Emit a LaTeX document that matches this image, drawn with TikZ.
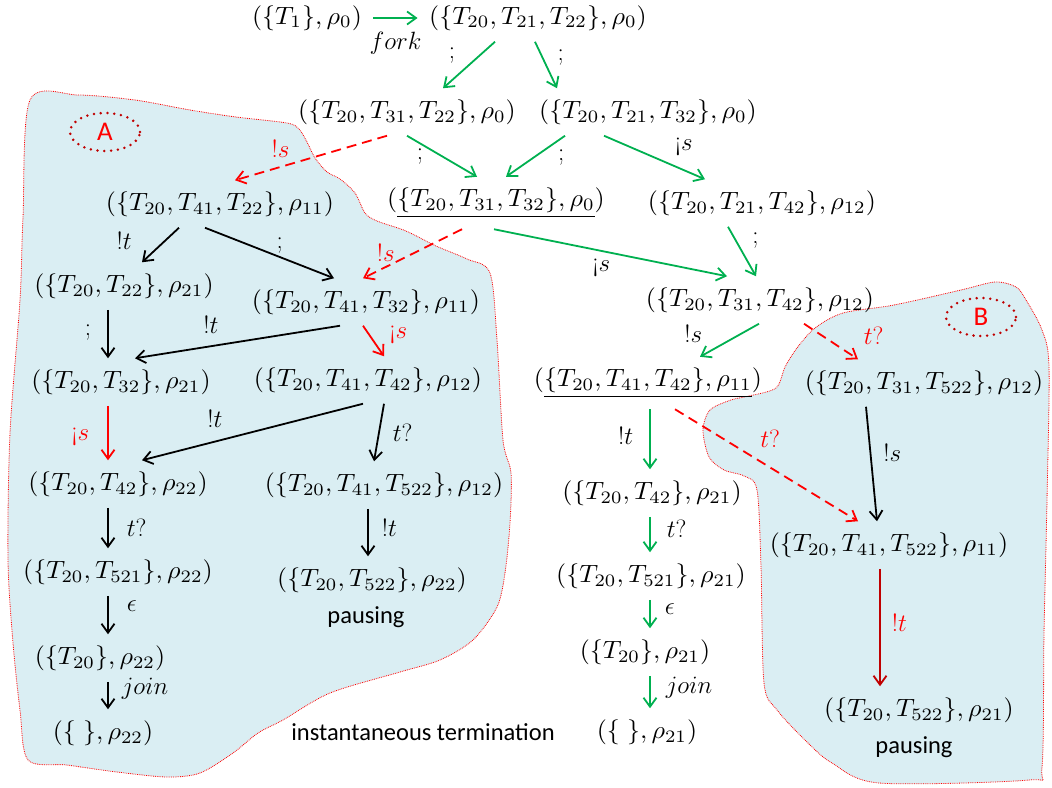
\RequirePackage{fix-cm}
\documentclass[tikz,border=0pt]{standalone}
\usepackage{fontspec}
\setsansfont{Carlito}
\usepackage{tikz}
\usetikzlibrary{arrows.meta, positioning}
\usetikzlibrary{shapes.geometric}

\definecolor{okgreen}{HTML}{00B050}
\definecolor{darkred}{HTML}{C00000}
\definecolor{areablue}{HTML}{DAEEF3}

\begin{document}
\begin{tikzpicture}[
		x=1pt, y=1pt,
		on grid,
		every node/.style={font=\fontsize{25}{30}\selectfont, inner sep=2pt},
		state/.style={
			font=\normalsize,
			xscale=2.6,
			yscale=2.5,
			inner xsep=0.8pt,
			inner ysep=4.3pt
		},
		note/.style={font=\fontsize{24.5}{29}\selectfont\sffamily},
		tag/.style={
			ellipse,
			draw=darkred,
			line width=2.8pt,
			dash pattern=on 0pt off 6.8pt,
			line cap=round,
			minimum width=70pt,
			minimum height=38pt,
			inner sep=0pt,
			text=red,
			font=\fontsize{27}{30}\selectfont\sffamily
		},
		area/.style={fill=areablue, draw=red, densely dotted, line width=0.8pt},
		arrow/.style={-{Straight Barb[length=9pt,width=13pt]}, line width=1.8pt},
		ok/.style={arrow, draw=okgreen},
		plain/.style={arrow, black},
		bad/.style={arrow, red, dash pattern=on 10pt off 6pt}
		]
		
		\useasboundingbox (0,0) rectangle (1052,-787);
		
		% Regions
		\draw[area] plot[smooth cycle] coordinates {
			(30,-100) (78,-95) (135,-100) (190,-110) (236,-117) (287,-123) (299,-129)
			(307,-142) (315,-158) (327,-172) (340,-179) (355,-193) (365,-213) (377,-221)
			(406,-231) (436,-246) (467,-259) (490,-273) (497,-340) (503,-440)
			(511,-473) (510,-523) (505,-573) (497,-607) (473,-640) (440,-660) (400,-672)
			(330,-693) (283,-720) (258,-733) (233,-753) (200,-773) (167,-777) (117,-772)
			(67,-765) (28,-760) (20,-710) (13,-643) (8,-560) (10,-433) (20,-300) (23,-217)};
		\draw[area] plot[smooth cycle] coordinates {
			(843,-313) (894,-305) (961,-290) (995,-282) (1016,-287) (1026,-300)
			(1042,-330) (1049,-367) (1047,-500) (1044,-633) (1042,-767) (1029,-780)
			(879,-783) (832,-763) (808,-743) (777,-710) (764,-683) (761,-567)
			(757,-490) (744,-476) (724,-470) (709,-457) (703,-430) (710,-410)
			(731,-400) (749,-396) (776,-388) (785,-367) (797,-348) (815,-328)};
		
		% States
		\node[state] (t1) at (307,-18) {$(\{T_1\},\rho_0)$};
		\node[state, right=231pt of t1] (t21t22) {$(\{T_{20},T_{21},T_{22}\},\rho_0)$};
		\node[state, below left=94pt and 131pt of t21t22] (t31t22) {$(\{T_{20},T_{31},T_{22}\},\rho_0)$};
		\node[state, below right=94pt and 110pt of t21t22] (t21t32) {$(\{T_{20},T_{21},T_{32}\},\rho_0)$};
		\node[state, below left=92pt and 187pt of t31t22] (t41t22) {$(\{T_{20},T_{41},T_{22}\},\rho_{11})$};
		\node[state, below right=91pt and 89pt of t31t22] (t31t32) {$(\underline{\{T_{20},T_{31},T_{32}\},\rho_0})$};
		\node[state, below right=91pt and 114pt of t21t32] (t21t42) {$(\{T_{20},T_{21},T_{42}\},\rho_{12})$};
		\node[state, below left=82pt and 96pt of t41t22] (t22) {$(\{T_{20},T_{22}\},\rho_{21})$};
		\node[state, below right=98pt and 146pt of t41t22] (t41t32) {$(\{T_{20},T_{41},T_{32}\},\rho_{11})$};
		\node[state, below left=97pt and 2pt of t21t42] (t31t42) {$(\{T_{20},T_{31},T_{42}\},\rho_{12})$};
		\node[state, below left=96pt and 3pt of t22] (t32) {$(\{T_{20},T_{32}\},\rho_{21})$};
		\node[state, below right=78pt and 2pt of t41t32] (t41t42) {$(\{T_{20},T_{41},T_{42}\},\rho_{12})$};
		\node[state, below left=83pt and 112pt of t31t42] (t41t42b) {$(\underline{\{T_{20},T_{41},T_{42}\},\rho_{11}})$};
		\node[state, below right=83pt and 164pt of t31t42] (t31t522) {$(\{T_{20},T_{31},T_{522}\},\rho_{12})$};
		\node[state, below left=102pt and 3pt of t32] (t42) {$(\{T_{20},T_{42}\},\rho_{22})$};
		\node[state, below right=105pt and 16pt of t41t42] (t41t522) {$(\{T_{20},T_{41},T_{522}\},\rho_{12})$};
		\node[state, below right=110pt and 4pt of t41t42b] (t42b) {$(\{T_{20},T_{42}\},\rho_{21})$};
		\node[state, below left=162pt and 35pt of t31t522] (t41t522b) {$(\{T_{20},T_{41},T_{522}\},\rho_{11})$};
		\node[state, below=88pt of t42] (t521) {$(\{T_{20},T_{521}\},\rho_{22})$};
		\node[state, below left=95pt and 12pt of t41t522] (t522) {$(\{T_{20},T_{522}\},\rho_{22})$};
		\node[state, below left=83pt and 1pt of t42b] (t521b) {$(\{T_{20},T_{521}\},\rho_{21})$};
		\node[state, below left=86pt and 18pt of t521] (t20) {$(\{T_{20}\},\rho_{22})$};
		\node[state, below left=76pt and 6pt of t521b] (t20b) {$(\{T_{20}\},\rho_{21})$};
		\node[state, below right=75pt and 3pt of t20] (done) {$(\{\;\},\rho_{22})$};
		\node[state, below right=80pt and 2pt of t20b] (doneb) {$(\{\;\},\rho_{21})$};
		\node[state, below right=165pt and 30pt of t41t522b] (t522b) {$(\{T_{20},T_{522}\},\rho_{21})$};
		
		% Notes and tags
		\node[note, below left=37pt and 6pt of t522] (pause) {pausing};
		\node[note, below left=37pt and 5pt of t522b] (pauseb) {pausing};
		\node[note, left=224pt of doneb] (instant) {instantaneous termination};
		\node[tag, above left=72pt and 115pt of t41t22] (tagA) {A};
		\node[tag, above right=66pt and 57pt of t31t522] (tagB) {B};
		
		% Columns of the vertical steps
		\coordinate (colA) at (108,0);
		\coordinate (colB) at (368,0);
		\coordinate (colC) at (650,0);
		\coordinate (colD) at (880,0);
		
		% Transitions
		\draw[ok, shorten <=9pt, shorten >=9pt] (t1) -- node[below=11pt] {$fork$} (t21t22);
		\draw[ok] ([xshift=-43pt]t21t22.south) -- node[pos=.29, left=22pt] {$;$} ([xshift=36pt]t31t22.north);
		\draw[ok] ([xshift=-3pt]t21t22.south) -- node[pos=.35, right=12pt] {$;$} ([xshift=-91pt]t21t32.north);
		\draw[bad] ([xshift=-20pt]t31t22.south) -- node[pos=.7, above=7pt] {$!s$} ([xshift=15pt]t41t22.north);
		\draw[ok] ([xshift=0pt]t31t22.south) -- node[pos=.5, left=16pt] {$;$} ([xshift=-19pt]t31t32.north);
		\draw[ok] ([xshift=-83pt]t21t32.south) -- node[pos=.54, right=22pt] {$;$} ([xshift=10pt]t31t32.north);
		\draw[ok] ([xshift=-44pt]t21t32.south) -- node[pos=.79, above=11pt] {¡$s$} ([xshift=-57pt]t21t42.north);
		\draw[plain] ([xshift=-41pt]t41t22.south) -- node[pos=.39, left=30pt] {$!t$} ([xshift=18pt]t22.north);
		\draw[plain] ([xshift=-15pt]t41t22.south) -- node[pos=.58, above=1pt] {$;$} ([xshift=-32pt]t41t32.north);
		\draw[bad] ([xshift=-34pt]t31t32.south) -- node[pos=.49, left=16pt] {$!s$} ([xshift=-3pt]t41t32.north);
		\draw[ok] ([xshift=-2pt]t31t32.south) -- node[pos=.46, below=5pt] {¡$s$} ([xshift=-33pt]t31t42.north);
		\draw[ok] ([xshift=-34pt]t21t42.south) -- node[pos=.27, right=14pt] {$;$} ([xshift=-4pt]t31t42.north);
		\draw[plain] (t22.south -| colA) -- node[pos=.46, left=14pt] {$;$} (t32.north -| colA);
		\draw[plain] ([xshift=-26pt]t41t32.south) -- node[pos=.63, above=10pt] {$!t$} ([xshift=14pt]t32.north);
		\draw[arrow, red] ([xshift=-3pt]t41t32.south) -- node[pos=.31, right=17pt] {¡$s$} ([xshift=16pt]t41t42.north);
		\draw[ok] ([xshift=-1pt]t31t42.south) -- node[pos=.32, left=35pt] {$!s$} ([xshift=52pt]t41t42b.north);
		\draw[bad] ([xshift=44pt]t31t42.south) -- node[pos=.35, right=38pt] {$t?$} ([xshift=-66pt]t31t522.north);
		\draw[arrow, red] (t32.south -| colA) -- node[pos=.57, left=16pt] {¡$s$} (t42.north -| colA);
		\draw[plain] ([xshift=-5pt]t41t42.south) -- node[pos=.67, above=11pt] {$!t$} ([xshift=24pt]t42.north);
		\draw[plain] ([xshift=16pt]t41t42.south) -- node[pos=.51, right=11pt] {$t?$} ([xshift=-10pt]t41t522.north);
		\draw[ok] (t41t42b.south -| colC) -- node[pos=.45, left=14pt] {$!t$} (t42b.north -| colC);
		\draw[bad] ([xshift=27pt]t41t42b.south) -- node[pos=.52, above=17pt] {$t?$} ([xshift=-31pt]t41t522b.north);
		\draw[plain] ([xshift=-58pt]t31t522.south) -- node[pos=.4, right=10pt] {$!s$} ([xshift=-12pt]t41t522b.north);
		\draw[plain] (t42.south -| colA) -- node[right=16pt] {$t?$} (t521.north -| colA);
		\draw[plain] (t41t522.south -| colB) -- node[pos=.41, right=11pt] {$!t$} (t522.north -| colB);
		\draw[ok] (t42b.south -| colC) -- node[pos=.35, right=14pt] {$t?$} (t521b.north -| colC);
		\draw[arrow, darkred] (t41t522b.south -| colD) -- node[pos=.46, right=9pt, red] {$!t$} (t522b.north -| colD);
		\draw[plain] (t521.south -| colA) -- node[pos=.27, right=16pt] {$\epsilon$} (t20.north -| colA);
		\draw[ok] (t521b.south -| colC) -- node[pos=.33, right=12pt] {$\epsilon$} (t20b.north -| colC);
		\draw[plain] (t20.south -| colA) -- node[pos=.24, right=11pt] {$join$} (done.north -| colA);
		\draw[ok] (t20b.south -| colC) -- node[pos=.38, right=13pt] {$join$} (doneb.north -| colC);
		
	\end{tikzpicture}
\end{document}
